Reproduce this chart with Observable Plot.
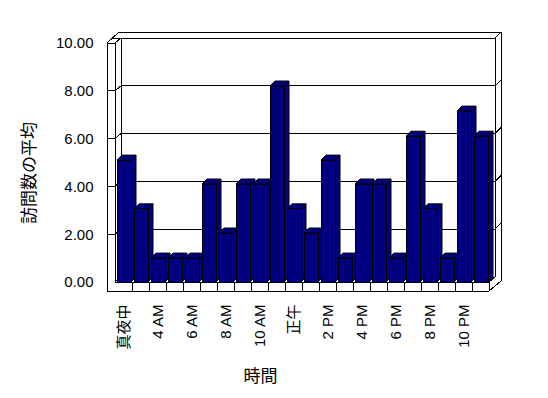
<!DOCTYPE html>
<html><head><meta charset="utf-8">
<script src="https://cdn.jsdelivr.net/npm/d3@7"></script>
<script src="https://cdn.jsdelivr.net/npm/@observablehq/plot@0.6"></script>
<style>body{margin:0;background:#fff}</style>
</head><body><div id="chart"></div>
<script>
const hours = ["真夜中","1 AM","4 AM","5 AM","6 AM","7 AM","8 AM","9 AM","10 AM","11 AM","正午","1 PM","2 PM","3 PM","4 PM","5 PM","6 PM","7 PM","8 PM","9 PM","10 PM","11 PM"];
const visits = [5.1,3.06,1.0,1.0,1.0,4.1,2.05,4.1,4.1,8.2,3.06,2.05,5.1,1.0,4.1,4.1,1.0,6.1,3.06,1.0,7.15,6.1];
const tickLabels = ["真夜中","4 AM","6 AM","8 AM","10 AM","正午","2 PM","4 PM","6 PM","8 PM","10 PM"];
const yTicks = [0,2,4,6,8,10];
const xTitle = "時間";
const yTitle = "訪問数の平均";

const NAVY = "#000080";
const FONT = "'Liberation Sans','Noto Sans CJK JP',sans-serif";
const CJK = "'Noto Sans CJK JP',sans-serif";
const WX = 6, WY = 5;      // wall depth offset
const BX = 5, BY = 5;      // bar depth offset
const T = 8, FB = 9, S = 6; // wall / floor / slab thickness

function walls(index, {x, y}) {
  const [X0, X1] = x.range();
  const Y0 = y(0), YT = y(d3.max(yTicks));
  const g = d3.create("svg:g").attr("stroke", "black").attr("fill", "none")
    .attr("shape-rendering", "crispEdges");
  const L = (a, b, c, d) => g.append("line").attr("x1", a).attr("y1", b).attr("x2", c).attr("y2", d);
  // left wall
  L(X0 - T, YT, X0 - T, Y0 + FB);
  L(X0, YT, X0, Y0);
  L(X0 - T, YT, X0, YT);
  L(X0, YT, X0 + WX, YT - WY);
  L(X0 - T, YT, X0 - T + WX + S, YT - WY - S);
  // back wall + slab
  L(X0 - T + WX, YT - WY, X1 + WX, YT - WY);
  L(X0 - T + WX + S, YT - WY - S, X1 + WX + S, YT - WY - S);
  L(X1 + WX, YT - WY, X1 + WX + S, YT - WY - S);
  L(X0 + WX, YT - WY, X0 + WX, Y0 - WY);
  L(X1 + WX, YT - WY, X1 + WX, Y0 - WY);
  L(X0 + WX, Y0 - WY, X1 + WX, Y0 - WY);
  L(X1 + WX + S, YT - WY - S, X1 + WX + S, Y0 + FB - 2 * WY);
  // floor
  L(X0 - T, Y0 + FB, X1, Y0 + FB);
  L(X0, Y0, X1, Y0);
  L(X1, Y0, X1, Y0 + FB);
  L(X0, Y0, X0 + WX, Y0 - WY);
  L(X1, Y0, X1 + WX, Y0 - WY);
  L(X1, Y0 + FB, X1 + WX + S, Y0 + FB - 2 * WY);
  const bw = x.bandwidth(), st = x.step();
  hours.slice(0, -1).forEach(h => {
    const xb = x(h) + bw + (st - bw) / 2;
    L(xb, Y0, xb, Y0 + FB);
  });
  // gridlines
  yTicks.slice(1, -1).forEach(v => {
    const yv = y(v);
    L(X0 - T, yv, X0, yv);
    L(X0, yv, X0 + WX, yv - WY);
    L(X0 + WX, yv - WY, X1 + WX, yv - WY);
    L(X1 + WX, yv - WY, X1 + WX + S, yv - WY - S);
  });
  return g.node();
}

function depthFaces(index, {x, y}) {
  const g = d3.create("svg:g").attr("fill", NAVY).attr("stroke", "black")
    .attr("stroke-linejoin", "miter");
  const bw = x.bandwidth();
  hours.forEach((h, i) => {
    const x0 = x(h), x1 = x0 + bw, yt = y(visits[i]), yb = y(0);
    g.append("polygon").attr("points", [[x0, yt], [x0 + BX, yt - BY], [x1 + BX, yt - BY], [x1, yt]].join(" "));
    g.append("polygon").attr("points", [[x1, yt], [x1 + BX, yt - BY], [x1 + BX, yb - BY], [x1, yb]].join(" "));
  });
  return g.node();
}

const chart = Plot.plot({
  width: 548,
  height: 398,
  marginLeft: 115,
  marginRight: 59,
  marginTop: 43,
  marginBottom: 116,
  style: {fontSize: "15px", fontFamily: FONT, background: "white", color: "black"},
  x: {type: "band", domain: hours, paddingInner: 0.2, paddingOuter: 0.1, label: null,
      tickSize: 0, tickPadding: 22, tickRotate: -90,
      tickFormat: d => tickLabels.includes(d) ? d : ""},
  y: {domain: [0, 10], ticks: yTicks, tickFormat: d3.format(".2f"), tickSize: 0, tickPadding: 22, label: null},
  marks: [
    walls,
    depthFaces,
    Plot.barY(visits, {x: hours, y: visits, fill: NAVY, stroke: "black", shapeRendering: "crispEdges"}),
    Plot.text([yTitle], {frameAnchor: "left", textAnchor: "middle", lineAnchor: "middle", rotate: -90,
      dx: -86, dy: 10, fontSize: 17, fontFamily: CJK}),
    Plot.text([xTitle], {frameAnchor: "bottom", textAnchor: "middle", lineAnchor: "middle",
      dx: -42, dy: 94, fontSize: 17, fontFamily: CJK})
  ]
});
document.getElementById("chart").appendChild(chart);
</script>
</body></html>
